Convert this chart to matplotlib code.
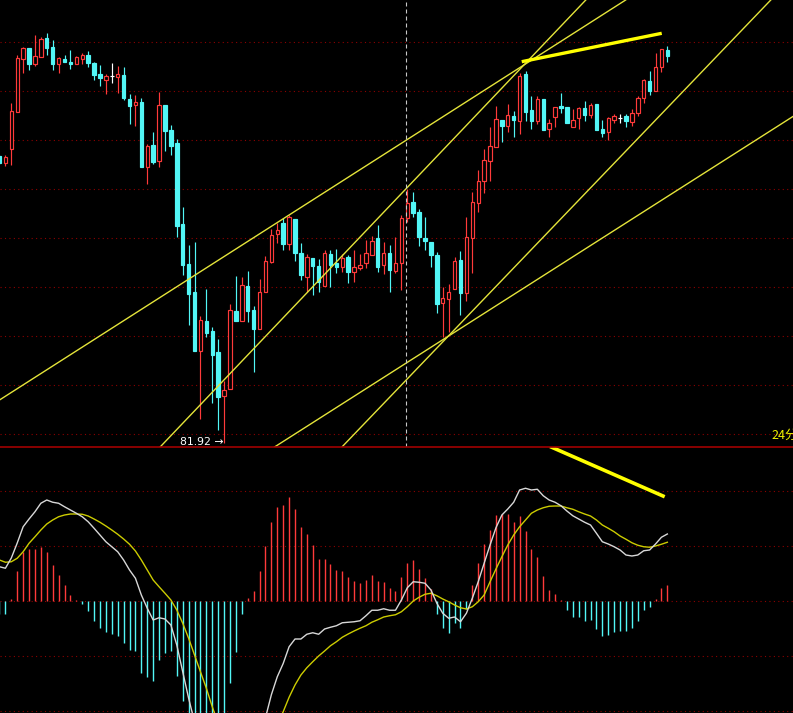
import matplotlib
matplotlib.use("Agg")
import matplotlib.pyplot as plt
from matplotlib.patches import Rectangle
from matplotlib.lines import Line2D

# ---- price bars (oldest -> newest) ----
opens = [84.79, 84.72, 84.86, 85.23, 85.76, 85.87, 85.71, 85.78, 85.97, 85.88,
         85.71, 85.76, 85.73, 85.71, 85.76, 85.80, 85.72, 85.61, 85.55, 85.59,
         85.58, 85.60, 85.36, 85.30, 85.33, 84.68, 84.90, 84.74, 85.30, 85.05,
         84.92, 84.11, 83.71, 83.43, 82.84, 83.14, 83.04, 82.83, 82.39, 82.46,
         83.24, 83.14, 83.49, 83.25, 83.06, 83.43, 83.73, 84.01, 84.12, 83.91,
         84.16, 83.82, 83.58, 83.77, 83.69, 83.49, 83.81, 83.72, 83.68, 83.78,
         83.63, 83.67, 83.72, 83.80, 83.97, 83.70, 83.82, 83.64, 83.72, 84.17,
         84.33, 84.23, 83.97, 83.93, 83.80, 83.32, 83.36, 83.46, 83.75, 83.42,
         83.97, 84.32, 84.54, 84.74, 84.88, 85.15, 85.09, 85.19, 85.14, 85.61,
         85.25, 85.14, 85.36, 85.06, 85.18, 85.29, 85.28, 85.08, 85.17, 85.27,
         85.20, 85.31, 85.06, 85.03, 85.15, 85.17, 85.19, 85.13, 85.22, 85.37,
         85.54, 85.44, 85.68, 85.85]

highs = [84.80, 84.80, 85.32, 85.80, 85.88, 85.87, 86.00, 85.98, 86.02, 85.95,
         85.78, 85.80, 85.85, 85.79, 85.82, 85.84, 85.73, 85.70, 85.61, 85.72,
         85.69, 85.68, 85.41, 85.40, 85.37, 84.91, 85.03, 85.43, 85.30, 85.10,
         84.96, 84.28, 83.90, 83.93, 83.19, 83.46, 83.08, 82.96, 82.54, 83.31,
         83.59, 83.58, 83.64, 83.29, 83.56, 83.79, 84.06, 84.12, 84.17, 84.20,
         84.16, 83.92, 83.81, 83.77, 83.76, 83.85, 83.85, 83.86, 83.81, 83.80,
         83.85, 83.81, 83.95, 83.99, 84.10, 83.93, 83.90, 83.98, 84.20, 84.46,
         84.43, 84.26, 84.18, 83.93, 83.83, 83.48, 83.51, 83.78, 83.84, 84.18,
         84.43, 84.65, 84.86, 85.08, 85.29, 85.15, 85.31, 85.24, 85.62, 85.64,
         85.39, 85.39, 85.36, 85.16, 85.28, 85.42, 85.28, 85.26, 85.28, 85.34,
         85.32, 85.31, 85.15, 85.18, 85.21, 85.21, 85.21, 85.26, 85.39, 85.56,
         85.64, 85.82, 85.86, 85.89]

lows = [84.71, 84.69, 84.70, 85.23, 85.62, 85.65, 85.69, 85.78, 85.80, 85.65,
        85.62, 85.73, 85.66, 85.71, 85.71, 85.68, 85.55, 85.49, 85.41, 85.52,
        85.42, 85.35, 85.11, 85.09, 84.68, 84.51, 84.71, 84.68, 84.84, 84.80,
        83.98, 83.60, 83.10, 82.84, 82.16, 82.98, 82.32, 82.05, 81.92, 82.46,
        83.14, 83.14, 83.13, 82.63, 83.06, 83.43, 83.72, 83.92, 83.85, 83.85,
        83.74, 83.55, 83.43, 83.40, 83.43, 83.49, 83.48, 83.62, 83.63, 83.52,
        83.53, 83.65, 83.67, 83.80, 83.63, 83.61, 83.43, 83.62, 83.45, 84.13,
        84.18, 83.89, 83.85, 83.68, 83.22, 82.98, 83.03, 83.46, 83.20, 83.34,
        83.62, 84.23, 84.42, 84.54, 84.88, 84.93, 85.03, 84.98, 85.01, 85.14,
        85.06, 85.11, 85.05, 84.98, 85.08, 85.22, 85.12, 85.08, 85.06, 85.14,
        85.17, 85.05, 84.98, 84.95, 85.12, 85.12, 85.08, 85.09, 85.19, 85.32,
        85.40, 85.44, 85.63, 85.73]

closes = [84.72, 84.78, 85.24, 85.77, 85.87, 85.71, 85.79, 85.96, 85.87, 85.71,
          85.77, 85.73, 85.71, 85.78, 85.80, 85.72, 85.60, 85.57, 85.59, 85.59,
          85.61, 85.37, 85.29, 85.33, 84.68, 84.89, 84.73, 85.30, 85.04, 84.89,
          84.09, 83.70, 83.41, 82.84, 83.15, 83.02, 82.80, 82.38, 82.45, 83.25,
          83.14, 83.50, 83.24, 83.06, 83.43, 83.74, 84.00, 84.05, 83.91, 84.18,
          83.82, 83.60, 83.78, 83.69, 83.53, 83.82, 83.70, 83.68, 83.77, 83.63,
          83.68, 83.70, 83.82, 83.94, 83.68, 83.82, 83.65, 83.72, 84.17, 84.32,
          84.22, 83.98, 83.94, 83.80, 83.31, 83.37, 83.43, 83.74, 83.42, 83.98,
          84.33, 84.54, 84.75, 84.89, 85.16, 85.09, 85.20, 85.15, 85.59, 85.23,
          85.14, 85.36, 85.05, 85.12, 85.28, 85.27, 85.12, 85.15, 85.27, 85.20,
          85.30, 85.05, 85.02, 85.17, 85.19, 85.17, 85.14, 85.22, 85.37, 85.55,
          85.44, 85.68, 85.86, 85.79]

# ---- MACD (DIF, DEA, histogram) ----
macd_hist = [-0.052, -0.052, 0.008, 0.120, 0.197, 0.208, 0.208, 0.216, 0.197, 0.144,
             0.104, 0.064, 0.024, 0.004, -0.011, -0.039, -0.079, -0.107, -0.125, -0.133,
             -0.139, -0.167, -0.195, -0.199, -0.287, -0.303, -0.319, -0.236, -0.207, -0.199,
             -0.299, -0.400, -0.480, -0.536, -0.536, -0.530, -0.590, -0.540, -0.510, -0.327,
             -0.203, -0.053, 0.011, 0.040, 0.120, 0.220, 0.315, 0.376, 0.384, 0.416,
             0.368, 0.296, 0.268, 0.224, 0.168, 0.168, 0.148, 0.124, 0.120, 0.096,
             0.080, 0.073, 0.084, 0.104, 0.080, 0.076, 0.052, 0.041, 0.096, 0.152,
             0.164, 0.128, 0.092, 0.048, -0.052, -0.107, -0.127, -0.087, -0.107, -0.033,
             0.064, 0.152, 0.228, 0.284, 0.345, 0.348, 0.348, 0.316, 0.340, 0.280,
             0.208, 0.176, 0.100, 0.044, 0.028, 0.004, -0.036, -0.064, -0.064, -0.080,
             -0.076, -0.112, -0.140, -0.136, -0.124, -0.120, -0.120, -0.108, -0.080, -0.036,
             -0.024, 0.008, 0.052, 0.064]

dif = [0.137, 0.131, 0.172, 0.232, 0.297, 0.328, 0.357, 0.391, 0.404, 0.395,
       0.391, 0.377, 0.364, 0.351, 0.337, 0.317, 0.291, 0.264, 0.237, 0.217,
       0.197, 0.164, 0.124, 0.091, 0.024, -0.029, -0.076, -0.067, -0.072, -0.096,
       -0.176, -0.283, -0.389, -0.484, -0.551, -0.614, -0.718, -0.760, -0.809, -0.759,
       -0.722, -0.653, -0.620, -0.600, -0.545, -0.467, -0.375, -0.303, -0.250, -0.183,
       -0.152, -0.152, -0.133, -0.127, -0.133, -0.112, -0.105, -0.099, -0.087, -0.085,
       -0.083, -0.079, -0.059, -0.037, -0.037, -0.031, -0.037, -0.037, 0.004, 0.053,
       0.077, 0.075, 0.071, 0.044, -0.009, -0.049, -0.069, -0.064, -0.083, -0.049,
       0.011, 0.077, 0.151, 0.224, 0.293, 0.344, 0.368, 0.395, 0.444, 0.451,
       0.444, 0.447, 0.421, 0.404, 0.395, 0.381, 0.360, 0.341, 0.328, 0.315,
       0.304, 0.271, 0.237, 0.228, 0.217, 0.204, 0.184, 0.180, 0.184, 0.201,
       0.204, 0.228, 0.255, 0.268]

dea = [0.164, 0.155, 0.157, 0.171, 0.197, 0.231, 0.257, 0.284, 0.308, 0.324,
       0.337, 0.344, 0.348, 0.348, 0.347, 0.340, 0.328, 0.315, 0.300, 0.284,
       0.267, 0.248, 0.227, 0.200, 0.164, 0.124, 0.084, 0.057, 0.031, 0.004,
       -0.036, -0.089, -0.149, -0.216, -0.283, -0.349, -0.423, -0.490, -0.554, -0.595,
       -0.620, -0.626, -0.625, -0.620, -0.605, -0.577, -0.538, -0.491, -0.443, -0.385,
       -0.336, -0.296, -0.267, -0.243, -0.220, -0.200, -0.179, -0.163, -0.145, -0.132,
       -0.120, -0.109, -0.099, -0.085, -0.075, -0.064, -0.059, -0.055, -0.043, -0.023,
       0.000, 0.015, 0.027, 0.031, 0.021, 0.008, -0.003, -0.016, -0.027, -0.032,
       -0.023, -0.003, 0.024, 0.077, 0.128, 0.177, 0.224, 0.264, 0.297, 0.324,
       0.351, 0.364, 0.373, 0.379, 0.380, 0.380, 0.373, 0.367, 0.357, 0.348,
       0.340, 0.324, 0.304, 0.291, 0.277, 0.260, 0.247, 0.233, 0.223, 0.217,
       0.215, 0.220, 0.227, 0.235]

# ---- drawn annotations ----
# channel lines, each through two (bar index, price) points
channel_lines = [((0.0, 82.35), (49.0, 84.20)),
                 ((27.5, 81.90), (99.2, 86.35)),
                 ((58.1, 81.89), (130.5, 86.35)),
                 ((46.8, 81.89), (134.3, 85.187))]
price_stroke = ((88.36, 85.733), (112.05, 86.017))
macd_stroke = ((93.15, 0.618), (112.55, 0.417))
cursor_bar = 68.83
low_label = "81.92"
low_bar = 37.9
low_price = 81.93
period_label = "24分"

price_grid = [82.01, 82.50, 82.99, 83.48, 83.97, 84.46, 84.95, 85.44, 85.93]
macd_grid = [-0.44, -0.22, 0.0, 0.22, 0.44]

# ---- style ----
UP = '#ff3a3a'
DOWN = '#52f6f6'
GRID = '#8e0000'
LINE_Y = '#e4e43a'
W, H = 793, 713
SPLIT = 447

fig = plt.figure(figsize=(W / 100, H / 100), dpi=100, facecolor='black')
ax = fig.add_axes([0, 1 - SPLIT / H, 1, SPLIT / H])
axm = fig.add_axes([0, 0, 1, 1 - SPLIT / H])
for a in (ax, axm):
    a.set_facecolor('black')
    a.set_xlim(0.085, 134.26)
    a.set_xticks([])
    a.set_yticks([])
    for s in a.spines.values():
        s.set_visible(False)
ax.set_ylim(81.88, 86.35)
axm.set_ylim(-0.448, 0.616)

for lv in price_grid:
    ax.axhline(lv, color=GRID, lw=0.8, ls=(0, (1, 3)), zorder=1)
for lv in macd_grid:
    axm.axhline(lv, color=GRID, lw=0.8, ls=(0, (1, 3)), zorder=1)

# candlesticks
body_w = 0.58
for i, (o, h, l, c) in enumerate(zip(opens, highs, lows, closes)):
    if c > o:
        col = UP
    elif c < o:
        col = DOWN
    else:
        col = 'white'
    ax.vlines(i, l, h, color=col, lw=0.85, zorder=2)
    if c > o:
        ax.add_patch(Rectangle((i - body_w / 2, o), body_w, c - o, facecolor='black',
                               edgecolor=col, lw=0.85, zorder=3))
    elif c < o:
        ax.add_patch(Rectangle((i - body_w / 2, c), body_w, o - c, facecolor=col,
                               edgecolor=col, lw=0.85, zorder=3))
    else:
        ax.hlines(c, i - body_w / 2, i + body_w / 2, color=col, lw=0.85, zorder=3)

for p0, p1 in channel_lines:
    ax.axline(p0, p1, color=LINE_Y, lw=1.0, zorder=4)
ax.plot([price_stroke[0][0], price_stroke[1][0]], [price_stroke[0][1], price_stroke[1][1]],
        color='#ffff00', lw=2.4, solid_capstyle='butt', zorder=5)

ax.axvline(cursor_bar, color='#c8c8c8', lw=0.8, ls=(0, (3.6, 2.7)), zorder=6)

ax.text(low_bar, low_price, low_label + " \u2192", color='white', fontsize=7.8,
        ha='right', va='center', zorder=7)
ax.text(130.7, 82.00, period_label, color='#f0f000', fontsize=9,
        family=['Noto Sans CJK SC', 'DejaVu Sans'], ha='left', va='center', zorder=7)

# MACD panel
idx = list(range(len(macd_hist)))
axm.vlines(idx, 0, macd_hist, colors=[UP if v > 0 else DOWN for v in macd_hist],
           lw=1.0, zorder=2)
axm.plot(idx, dea, color='#cccc00', lw=1.0, zorder=3)
axm.plot(idx, dif, color='#d8d8d8', lw=1.0, zorder=4)
axm.plot([macd_stroke[0][0], macd_stroke[1][0]], [macd_stroke[0][1], macd_stroke[1][1]],
         color='#ffff00', lw=2.6, solid_capstyle='butt', zorder=5)

# panel divider
fig.add_artist(Line2D([0, 1], [1 - SPLIT / H, 1 - SPLIT / H], transform=fig.transFigure,
                      color='#a00000', lw=1.2))

fig.savefig('out.png', dpi=100, facecolor='black')
